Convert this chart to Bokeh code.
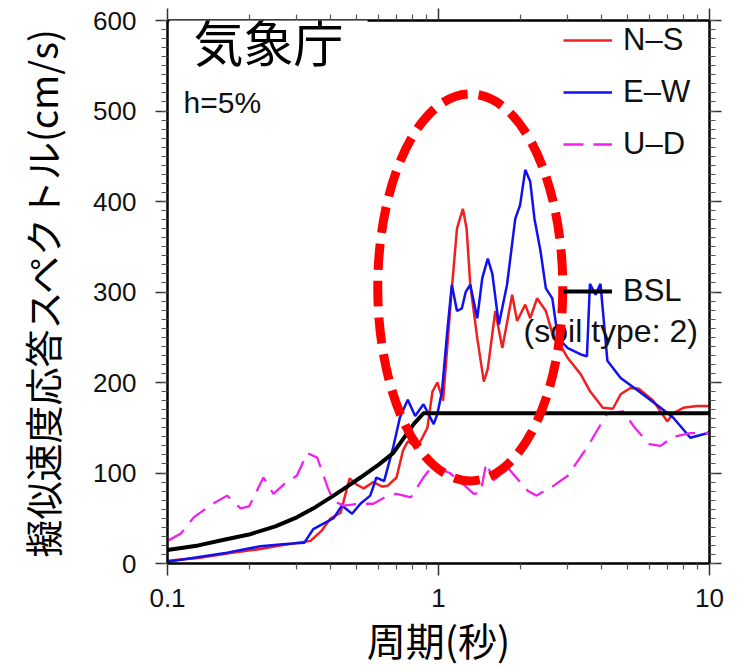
from bokeh.plotting import figure
from bokeh.models import (Range1d, LogAxis, LinearAxis, FixedTicker, BasicTickFormatter,
                          Legend, LegendItem, Label)
from bokeh.embed import file_html
from bokeh.resources import INLINE

# ---------------- data ----------------
ns_period = [0.1, 0.13, 0.166, 0.22, 0.26, 0.29, 0.337, 0.37, 0.40, 0.435, 0.47, 0.50, 0.53,
             0.575, 0.62, 0.65, 0.70, 0.74, 0.77, 0.835, 0.91, 0.95, 0.99, 1.04, 1.11, 1.17,
             1.23, 1.27, 1.31, 1.39, 1.47, 1.52, 1.62, 1.72, 1.87, 1.95, 2.09, 2.18, 2.31,
             2.49, 2.66, 2.83, 3.0, 3.35, 3.63, 4.04, 4.4, 4.7, 5.1, 5.5, 6.2, 6.98, 7.35,
             8.0, 9.0, 10.0]
ns_value = [3, 6, 11, 16, 20, 22, 25, 36, 50, 56, 94, 87, 83,
            90, 85, 86, 95, 125, 135, 128, 150, 190, 200, 180, 290, 370,
            392, 370, 308, 249, 201, 215, 279, 238, 297, 268, 286, 271, 293,
            279, 249, 240, 227, 209, 190, 172, 171, 187, 194, 193, 180, 157, 166,
            172, 174, 174]

ew_period = [0.1, 0.166, 0.22, 0.26, 0.29, 0.32, 0.345, 0.376, 0.41, 0.44, 0.48, 0.515, 0.56,
             0.59, 0.63, 0.68, 0.72, 0.77, 0.82, 0.88, 0.96, 0.99, 1.03, 1.08, 1.12, 1.17,
             1.22, 1.26, 1.31, 1.39, 1.45, 1.52, 1.58, 1.67, 1.79, 1.92, 2.0, 2.09, 2.18,
             2.26, 2.38, 2.49, 2.63, 2.76, 3.0, 3.35, 3.53, 3.62, 3.8, 3.96, 4.2, 4.7, 5.5,
             6.6, 7.35, 8.5, 9.8, 10.0]
ew_value = [2, 12, 19, 21, 22, 23, 38, 44, 50, 64, 55, 66, 75,
            95, 91, 128, 161, 181, 163, 176, 154, 165, 190, 260, 308, 279,
            282, 300, 308, 271, 315, 337, 320, 264, 308, 381, 396, 435, 422,
            381, 345, 304, 293, 249, 238, 231, 229, 309, 297, 309, 224, 205, 190,
            172, 161, 139, 144, 146]

ud_period = [0.1, 0.112, 0.125, 0.145, 0.166, 0.186, 0.2, 0.226, 0.246, 0.27, 0.30, 0.328,
             0.357, 0.39, 0.41, 0.446, 0.515, 0.575, 0.65, 0.70, 0.79, 0.88, 0.95, 1.1,
             1.23, 1.35, 1.43, 1.5, 1.6, 1.8, 2.0, 2.14, 2.3, 2.66, 3.0, 3.53, 4.2, 4.8,
             5.3, 6.0, 6.6, 7.35, 8.5, 10.0]
ud_value = [25, 33, 51, 65, 75, 61, 63, 95, 77, 88, 97, 122,
            117, 84, 69, 64, 66, 66, 75, 77, 73, 95, 108, 100,
            88, 77, 78, 111, 92, 106, 90, 80, 75, 86, 97, 128, 166, 168,
            150, 132, 130, 140, 144, 144]

bsl_period = [0.1, 0.13, 0.16, 0.2, 0.25, 0.3, 0.35, 0.41, 0.46, 0.515, 0.6, 0.68, 0.75,
              0.81, 0.88, 10.0]
bsl_value = [15, 20, 26, 32, 41, 51, 62, 75, 85, 95, 109, 122, 140, 154, 166, 166]

x_major = [0.1, 1, 10]
x_minor = [m * d for d in (0.1, 1) for m in range(2, 10)]
y_major = list(range(0, 601, 100))
y_minor = list(range(0, 601, 10))

FONT = "Liberation Sans"
CJK = "Noto Sans CJK JP"

p = figure(width=732, height=670, x_axis_type="log",
           x_range=Range1d(0.1, 10), y_range=Range1d(0, 600),
           output_backend="svg", toolbar_location=None,
           min_border_left=167, min_border_right=23, min_border_top=20, min_border_bottom=107)
p.xgrid.visible = False
p.ygrid.visible = False
p.outline_line_color = "black"
p.outline_line_width = 2
p.background_fill_color = "white"
p.border_fill_color = "white"

xt = FixedTicker(ticks=x_major, minor_ticks=x_minor)
yt = FixedTicker(ticks=y_major, minor_ticks=y_minor)


def style(ax, show_labels=True):
    ax.axis_line_width = 2
    ax.axis_line_color = "black"
    ax.major_tick_line_width = 1.5
    ax.minor_tick_line_width = 1.2
    ax.major_tick_in = 0
    ax.minor_tick_in = 0
    ax.major_tick_out = 12
    ax.minor_tick_out = 6
    ax.major_tick_line_color = "#333333"
    ax.minor_tick_line_color = "#555555"
    ax.major_label_text_font = FONT
    ax.major_label_text_font_size = "26px"
    ax.major_label_text_color = "#111111"
    if not show_labels:
        ax.major_label_text_font_size = "1px"
        ax.major_label_text_color = None
        ax.major_label_standoff = 0


xa = p.xaxis[0]
xa.ticker = xt
xa.formatter = BasicTickFormatter()
style(xa)
xa.major_label_standoff = 13
xa.axis_label = "周期(秒)"
xa.axis_label_text_font = CJK
xa.axis_label_text_font_size = "39px"
xa.axis_label_text_font_style = "normal"
xa.axis_label_text_color = "black"
xa.axis_label_standoff = 1

ya = p.yaxis[0]
ya.ticker = yt
style(ya)
ya.major_label_standoff = 19
ya.axis_label = "擬似速度応答スペクトル(cm/s)"
ya.axis_label_text_font = CJK
ya.axis_label_text_font_size = "38px"
ya.axis_label_text_font_style = "normal"
ya.axis_label_text_color = "black"
ya.axis_label_standoff = 21

top = LogAxis(ticker=xt)
style(top, show_labels=False)
top.major_tick_out = 12
top.minor_tick_out = 6
p.add_layout(top, "above")

right = LinearAxis(ticker=yt)
style(right, show_labels=False)
p.add_layout(right, "right")

r_ns = p.line(ns_period, ns_value, line_color="#f02020", line_width=2.5)
r_ew = p.line(ew_period, ew_value, line_color="#1010f0", line_width=2.5)
r_ud = p.line(ud_period, ud_value, line_color="#ee22ee", line_width=2.3, line_dash="20 10")
r_bsl = p.line(bsl_period, bsl_value, line_color="black", line_width=4)

# red dashed ellipse annotation
ell = p.ellipse(x=[1.31], y=[305], width=185, height=387, width_units="screen",
                height_units="screen", fill_color=None, line_color="#ff0000",
                line_width=9, line_dash="26 11")
ell.level = "overlay"

leg = Legend(items=[LegendItem(label="N–S", renderers=[r_ns]),
                    LegendItem(label="E–W", renderers=[r_ew]),
                    LegendItem(label="U–D", renderers=[r_ud])],
             location=(396, 401), border_line_color=None, background_fill_alpha=0,
             padding=0, margin=0, spacing=16, glyph_width=49, glyph_height=30,
             label_height=30, label_standoff=11, label_text_font=FONT,
             label_text_font_size="31px", label_text_color="#111111")
p.add_layout(leg)

leg2 = Legend(items=[LegendItem(label="BSL", renderers=[r_bsl])],
              location=(396, 254), border_line_color=None, background_fill_alpha=0,
              padding=0, margin=0, glyph_width=49, glyph_height=30,
              label_height=30, label_standoff=11, label_text_font=FONT,
              label_text_font_size="31px", label_text_color="#111111")
p.add_layout(leg2)

p.add_layout(Label(x=9.06, y=257, text="(soil type: 2)", text_align="right",
                   text_baseline="middle", text_font=FONT, text_font_size="32px",
                   text_color="#111111"))
p.add_layout(Label(x=0.1146, y=509, text="h=5%", text_align="left",
                   text_baseline="middle", text_font=FONT, text_font_size="30px",
                   text_color="#111111"))
p.add_layout(Label(x=0.236, y=579, text="気象庁", text_align="center",
                   text_baseline="middle", text_font=CJK, text_font_size="50px",
                   text_color="black", background_fill_color="white",
                   padding=(24, 6)))

open("out.html", "w").write(file_html(p, INLINE))
